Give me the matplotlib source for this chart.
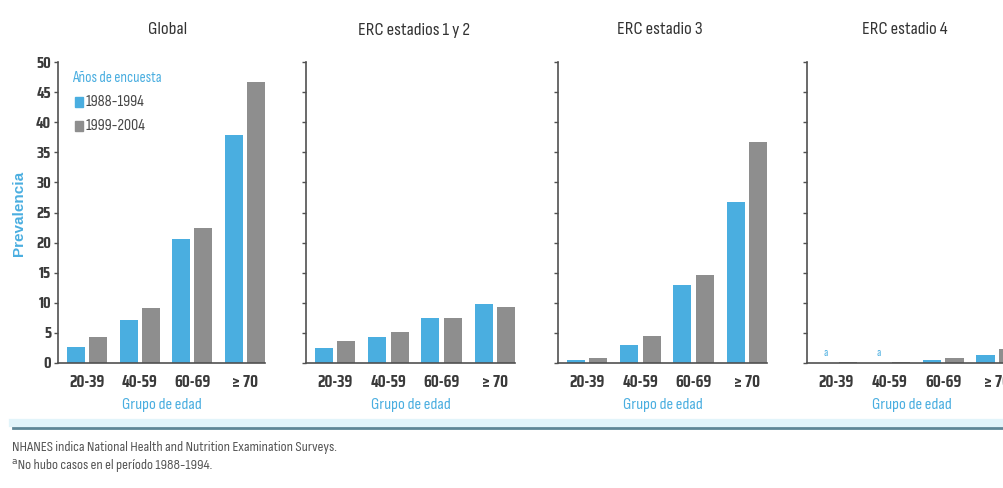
import numpy as np
import matplotlib
matplotlib.use("Agg")
from matplotlib import pyplot as plt

# Prevalencia de ERC por grupo de edad, NHANES 1988-1994 vs 1999-2004
grupos = ["20-39", "40-59", "60-69", "\u2265 70"]
paneles = ["Global", "ERC estadios 1 y 2", "ERC estadio 3", "ERC estadio 4"]

global_88 = [2.7, 7.2, 20.6, 37.8]
global_99 = [4.3, 9.2, 22.4, 46.6]
est12_88 = [2.5, 4.4, 7.5, 9.8]
est12_99 = [3.6, 5.1, 7.5, 9.3]
est3_88 = [0.5, 3.0, 12.9, 26.7]
est3_99 = [0.9, 4.5, 14.7, 36.7]
est4_88 = [np.nan, np.nan, 0.5, 1.4]   # sin casos en 1988-1994 para 20-39 y 40-59
est4_99 = [0.2, 0.2, 0.8, 2.3]

serie_88 = [global_88, est12_88, est3_88, est4_88]
serie_99 = [global_99, est12_99, est3_99, est4_99]

AZUL = "#4aaee0"
GRIS = "#8e8e8e"
TEXTO = "#3a3a3a"
NARROW = ["Sofia Sans Condensed", "Roboto Condensed", "DejaVu Sans"]
NARROW_B = ["Saira Condensed", "Roboto Condensed", "DejaVu Sans"]

W, H = 1004, 488
fig = plt.figure(figsize=(W / 100, H / 100), dpi=100)


def fx(px):
    return px / W


def fy(py):
    return 1 - py / H


# posiciones de los ejes en pixeles (izquierda, derecha)
ejes_px = [(58, 265), (306, 515), (558, 767), (807, 1017)]
titulo_x = [168, 414, 660, 905]
base, tope = 363, 62

x = np.arange(len(grupos))
ancho = 0.34
desp = 0.21

for i, (l, r) in enumerate(ejes_px):
    ax = fig.add_axes([fx(l), fy(base), fx(r - l), fy(tope) - fy(base)])
    ax.bar(x - desp, serie_88[i], ancho, color=AZUL)
    ax.bar(x + desp, serie_99[i], ancho, color=GRIS)
    ax.set_xlim(-0.55, 3.38)
    ax.set_ylim(0, 50)
    ax.set_yticks(np.arange(0, 51, 5))
    ax.set_xticks(x)
    ax.set_xticklabels(grupos, family=NARROW_B, fontsize=12, fontweight="bold",
                       color=TEXTO)
    for s in ["top", "right"]:
        ax.spines[s].set_visible(False)
    for s in ["left", "bottom"]:
        ax.spines[s].set_color("#505050")
        ax.spines[s].set_linewidth(1.2)
    ax.tick_params(axis="x", length=0, pad=8)
    ax.tick_params(axis="y", length=3, width=1, color="#505050", pad=2)
    if i == 0:
        for t in ax.get_yticklabels():
            t.set_family(NARROW_B)
            t.set_fontsize(11.5)
            t.set_fontweight("bold")
            t.set_color(TEXTO)
    else:
        ax.set_yticklabels([])
    ax.set_xlabel("Grupo de edad", family=NARROW, fontsize=12, color=AZUL,
                  labelpad=6)
    fig.text(fx(titulo_x[i]), fy(30), paneles[i], family=NARROW, fontsize=13.5,
             color="#333333", ha="center", va="center")

    # marca "a" donde no hubo casos
    if i == 3:
        for j, v in enumerate(serie_88[i]):
            if np.isnan(v):
                ax.text(x[j] - desp, 0.8, "a", color=AZUL, fontsize=8,
                        ha="center", va="bottom", family=NARROW)

    # leyenda del primer panel
    if i == 0:
        fig.text(fx(72), fy(78), "Años de encuesta", family=NARROW,
                 fontsize=11, color=AZUL, va="center")
        for k, (lab, col) in enumerate([("1988-1994", AZUL), ("1999-2004", GRIS)]):
            yy = 102 + 24 * k
            fig.patches.append(plt.Rectangle((fx(75), fy(yy + 5)), fx(8), fy(yy - 5) - fy(yy + 5),
                                             transform=fig.transFigure, color=col))
            fig.text(fx(86), fy(yy), lab, family=NARROW, fontsize=11.5,
                     color="#444444", va="center")

fig.text(fx(19), fy(213), "Prevalencia", rotation=90, family="Liberation Sans",
         fontsize=11, fontweight="bold", color=AZUL, ha="center", va="center")

# linea separadora y notas al pie
fig.add_artist(plt.Line2D([fx(13), 1], [fy(423), fy(423)], color="#e2f4fa", lw=6))
fig.add_artist(plt.Line2D([fx(13), 1], [fy(428), fy(428)], color="#5f8797", lw=2))
fig.text(fx(12), fy(448), "NHANES indica National Health and Nutrition Examination Surveys.",
         family=NARROW, fontsize=10.5, color="#555555", va="center")
fig.text(fx(12), fy(466), "\u1d43No hubo casos en el período 1988-1994.",
         family=NARROW, fontsize=10.5, color="#555555", va="center")

fig.savefig("out.png", dpi=100)
